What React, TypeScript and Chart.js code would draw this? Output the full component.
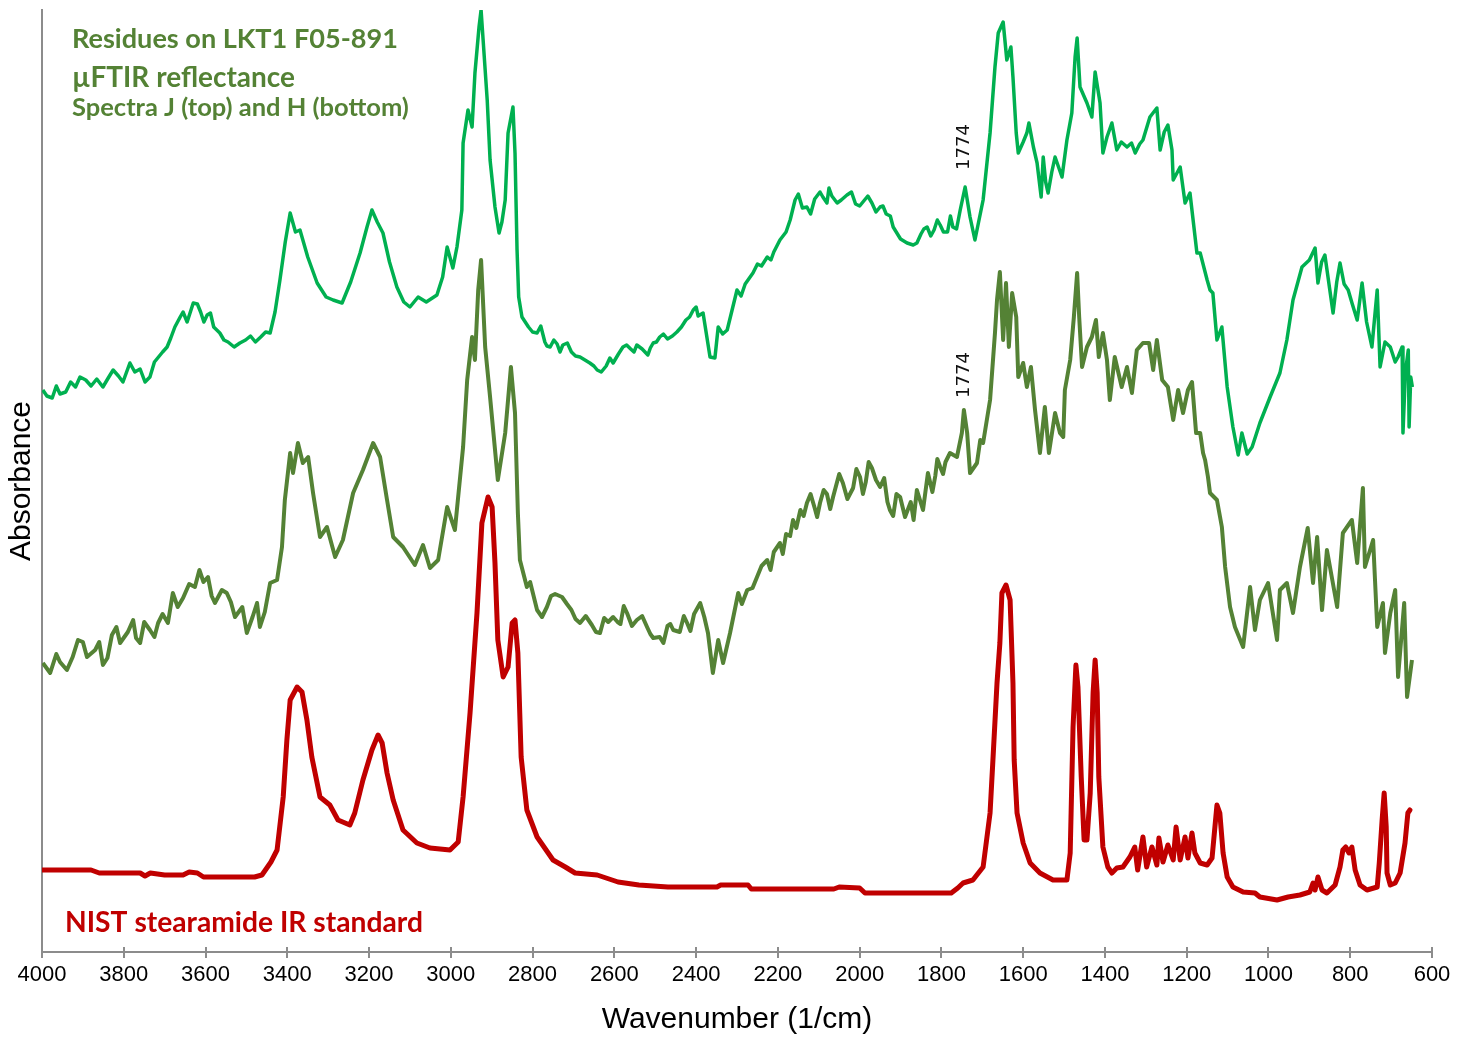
import React, { useEffect, useRef } from "react";
import { Chart, registerables } from "chart.js";

Chart.register(...registerables);

// ---- axis ----
const xMin = 600;
const xMax = 4000;
const xStep = 200;
const yMin = 0;
const yMax = 94.2;

// ---- Spectrum J (top, light green): [wavenumber, absorbance] ----
const spectrumJ: [number, number][] = [
  [3998, 56.2], [3988, 55.6], [3975, 55.4], [3965, 56.6], [3956, 55.8], [3942, 56.0], [3930, 57.0], [3918, 56.5],
  [3907, 57.5], [3893, 57.2], [3880, 56.6], [3866, 57.3], [3851, 56.5], [3838, 57.4], [3826, 58.2], [3813, 57.6],
  [3802, 57.0], [3785, 58.9], [3773, 58.0], [3760, 58.3], [3748, 57.0], [3736, 57.5], [3725, 59.0], [3715, 59.5],
  [3705, 60.0], [3694, 60.5], [3685, 61.4], [3675, 62.5], [3662, 63.5], [3655, 64.0], [3645, 63.0], [3630, 64.9],
  [3620, 64.8], [3612, 64.0], [3604, 63.0], [3596, 63.7], [3588, 63.9], [3580, 62.5], [3565, 61.9], [3555, 61.2],
  [3545, 61.0], [3530, 60.5], [3516, 60.9], [3502, 61.2], [3490, 61.6], [3478, 61.0], [3465, 61.5], [3453, 62.0],
  [3442, 61.9], [3430, 64.0], [3418, 67.2], [3405, 71.0], [3393, 73.9], [3380, 72.0], [3369, 72.2], [3350, 69.5],
  [3327, 66.9], [3305, 65.5], [3288, 65.2], [3266, 64.9], [3245, 67.0], [3222, 69.9], [3205, 72.5], [3193, 74.2],
  [3180, 73.0], [3166, 71.9], [3150, 69.0], [3132, 66.5], [3115, 65.0], [3100, 64.5], [3080, 65.5], [3060, 65.0],
  [3034, 65.7], [3020, 67.5], [3009, 70.5], [2995, 68.4], [2985, 70.5], [2973, 74.2], [2970, 80.9], [2958, 84.2],
  [2948, 82.5], [2941, 87.9], [2931, 92.5], [2926, 94.2], [2921, 91.2], [2911, 85.2], [2904, 79.2], [2892, 74.5],
  [2882, 71.9], [2875, 73.0], [2867, 75.2], [2860, 81.9], [2848, 84.5], [2843, 79.9], [2838, 70.2], [2834, 65.5],
  [2826, 63.5], [2810, 62.5], [2800, 62.0], [2789, 61.9], [2780, 62.6], [2770, 61.0], [2765, 60.6], [2757, 60.5],
  [2748, 61.2], [2740, 60.8], [2733, 60.0], [2726, 60.7], [2715, 60.9], [2705, 60.0], [2695, 59.6], [2684, 59.5],
  [2672, 59.2], [2660, 58.9], [2650, 58.6], [2642, 58.2], [2632, 58.0], [2620, 58.6], [2611, 59.4], [2603, 58.9],
  [2590, 59.8], [2579, 60.5], [2570, 60.7], [2560, 60.3], [2552, 60.0], [2545, 60.7], [2532, 60.3], [2518, 59.7],
  [2512, 60.4], [2505, 60.9], [2497, 61.0], [2489, 61.5], [2480, 61.8], [2470, 61.3], [2458, 61.6], [2447, 62.0],
  [2436, 62.5], [2425, 63.2], [2416, 63.5], [2407, 64.2], [2400, 64.5], [2395, 63.6], [2383, 63.9], [2366, 59.5],
  [2354, 59.4], [2346, 62.5], [2335, 61.8], [2324, 62.2], [2300, 66.2], [2290, 65.6], [2280, 66.8], [2261, 67.9],
  [2250, 68.8], [2240, 68.6], [2226, 69.5], [2217, 69.2], [2210, 70.0], [2195, 71.2], [2180, 72.0], [2170, 73.2],
  [2158, 75.2], [2150, 75.8], [2140, 74.4], [2129, 74.5], [2120, 73.8], [2110, 75.3], [2097, 76.0], [2090, 75.5],
  [2080, 74.9], [2075, 76.4], [2068, 75.6], [2055, 74.9], [2045, 75.2], [2031, 75.7], [2020, 76.0], [2010, 74.8],
  [2000, 74.6], [1992, 75.0], [1980, 75.6], [1970, 74.9], [1960, 74.0], [1950, 74.5], [1943, 74.6], [1935, 73.8],
  [1925, 73.6], [1918, 72.5], [1900, 71.3], [1884, 70.9], [1869, 70.7], [1860, 70.9], [1850, 71.8], [1843, 72.3],
  [1835, 72.5], [1826, 71.6], [1818, 72.2], [1810, 73.2], [1803, 72.7], [1795, 72.0], [1785, 72.0], [1778, 73.6],
  [1772, 72.5], [1763, 72.3], [1754, 74.2], [1742, 76.5], [1730, 73.5], [1718, 71.2], [1698, 75.2], [1681, 81.9],
  [1669, 88.5], [1661, 91.9], [1649, 93.0], [1640, 89.2], [1630, 90.5], [1625, 87.5], [1617, 81.9], [1612, 79.9],
  [1600, 81.0], [1591, 81.9], [1586, 82.9], [1575, 80.5], [1566, 78.9], [1556, 75.5], [1551, 79.5], [1545, 77.0],
  [1539, 75.9], [1530, 78.0], [1522, 79.5], [1505, 77.5], [1493, 81.2], [1481, 83.9], [1473, 89.5], [1468, 91.4],
  [1461, 86.5], [1444, 84.9], [1432, 83.5], [1424, 88.0], [1412, 84.9], [1405, 79.9], [1395, 81.5], [1383, 82.9],
  [1371, 80.2], [1360, 81.0], [1346, 80.5], [1335, 80.9], [1326, 79.9], [1315, 80.8], [1307, 81.2], [1290, 83.5],
  [1273, 84.4], [1265, 80.2], [1255, 82.0], [1246, 82.7], [1236, 80.2], [1233, 77.2], [1216, 78.5], [1204, 74.9],
  [1192, 75.9], [1175, 69.9], [1167, 69.9], [1150, 67.2], [1143, 66.2], [1136, 65.9], [1126, 61.2], [1114, 62.5],
  [1101, 56.5], [1087, 52.5], [1074, 49.7], [1065, 51.9], [1052, 49.8], [1040, 50.5], [1021, 52.9], [996, 55.5],
  [972, 57.9], [955, 61.2], [940, 65.2], [918, 68.5], [900, 69.2], [886, 70.4], [879, 66.9], [870, 69.0],
  [862, 69.7], [842, 63.9], [833, 67.0], [825, 68.9], [815, 66.8], [805, 66.2], [795, 64.8], [783, 63.2],
  [771, 66.9], [760, 63.0], [747, 60.5], [734, 66.2], [727, 58.5], [715, 61.0], [702, 60.5], [690, 59.0],
  [683, 59.5], [673, 60.5], [671, 51.9], [665, 58.0], [658, 60.2], [656, 52.5], [652, 57.5], [648, 56.5],
];

// ---- Spectrum H (middle, olive green) ----
const spectrumH: [number, number][] = [
  [3998, 28.9], [3980, 27.9], [3965, 29.8], [3956, 29.0], [3939, 28.2], [3925, 29.5], [3912, 31.2], [3900, 31.0],
  [3890, 29.5], [3870, 30.2], [3860, 31.0], [3851, 28.7], [3840, 29.4], [3829, 31.7], [3818, 32.5], [3809, 30.9],
  [3790, 32.0], [3777, 33.2], [3770, 31.4], [3760, 30.9], [3750, 33.0], [3736, 32.2], [3725, 31.5], [3716, 32.9],
  [3705, 33.8], [3692, 32.9], [3680, 35.9], [3668, 34.5], [3655, 35.4], [3640, 36.8], [3626, 36.5], [3615, 38.2],
  [3605, 37.0], [3594, 37.5], [3585, 35.6], [3577, 34.9], [3560, 36.2], [3548, 35.9], [3538, 35.0], [3528, 33.5],
  [3510, 34.5], [3499, 31.9], [3485, 33.5], [3474, 34.9], [3467, 32.5], [3455, 34.0], [3442, 36.9], [3425, 37.2],
  [3413, 40.5], [3406, 45.2], [3393, 49.9], [3386, 47.9], [3374, 50.9], [3362, 48.9], [3349, 49.5], [3337, 45.9],
  [3320, 41.5], [3303, 42.5], [3283, 39.5], [3264, 41.2], [3239, 45.9], [3215, 48.2], [3190, 50.9], [3173, 49.5],
  [3156, 45.2], [3141, 41.5], [3117, 40.5], [3088, 38.7], [3068, 40.7], [3051, 38.4], [3031, 39.2], [3009, 44.5],
  [2990, 42.2], [2970, 50.5], [2960, 57.2], [2948, 61.5], [2941, 59.2], [2933, 66.2], [2926, 69.2], [2916, 60.5],
  [2904, 55.5], [2885, 47.2], [2867, 51.9], [2853, 58.5], [2843, 53.9], [2836, 43.9], [2831, 39.2], [2814, 36.5],
  [2806, 37.0], [2789, 34.2], [2777, 33.5], [2765, 34.5], [2755, 35.6], [2745, 35.8], [2728, 35.5], [2716, 34.8],
  [2705, 34.2], [2695, 33.3], [2684, 32.9], [2670, 33.6], [2655, 32.7], [2645, 32.0], [2635, 31.9], [2625, 33.4],
  [2615, 33.0], [2603, 33.5], [2592, 33.0], [2585, 32.8], [2577, 34.6], [2569, 33.9], [2557, 32.6], [2545, 33.2],
  [2532, 33.6], [2520, 32.5], [2512, 31.8], [2505, 31.4], [2489, 31.5], [2480, 30.9], [2470, 32.6], [2463, 32.8],
  [2456, 32.2], [2440, 32.0], [2430, 33.6], [2422, 32.9], [2414, 32.1], [2405, 33.8], [2390, 34.9], [2380, 33.5],
  [2371, 31.9], [2359, 27.9], [2346, 31.2], [2334, 28.9], [2317, 31.9], [2297, 35.9], [2288, 34.8], [2275, 36.2],
  [2262, 36.4], [2251, 37.5], [2240, 38.6], [2226, 39.2], [2218, 38.2], [2210, 40.0], [2195, 40.9], [2188, 39.8],
  [2180, 41.8], [2170, 41.6], [2163, 43.2], [2155, 42.4], [2145, 44.2], [2137, 43.6], [2129, 44.9], [2120, 45.8],
  [2110, 44.4], [2104, 43.5], [2097, 44.9], [2088, 46.2], [2080, 45.8], [2072, 44.3], [2065, 45.5], [2050, 47.8],
  [2041, 46.9], [2030, 45.3], [2016, 46.4], [2008, 48.3], [1999, 47.5], [1992, 45.8], [1985, 47.0], [1978, 49.0],
  [1970, 48.4], [1960, 47.2], [1950, 46.5], [1940, 47.4], [1932, 45.0], [1926, 44.2], [1918, 43.6], [1910, 45.8],
  [1901, 45.5], [1889, 43.5], [1875, 45.0], [1868, 43.2], [1860, 46.2], [1845, 44.2], [1833, 47.9], [1822, 46.0],
  [1815, 47.6], [1810, 49.3], [1803, 48.5], [1796, 47.8], [1790, 49.0], [1779, 49.9], [1762, 49.5], [1750, 51.9],
  [1745, 54.2], [1737, 51.9], [1730, 47.9], [1713, 48.9], [1705, 51.2], [1698, 50.9], [1681, 55.2], [1669, 61.9],
  [1664, 65.2], [1657, 68.0], [1649, 61.2], [1642, 66.9], [1635, 60.5], [1627, 65.9], [1617, 63.5], [1612, 57.5],
  [1600, 58.9], [1591, 56.5], [1581, 58.5], [1571, 54.2], [1559, 49.9], [1547, 54.5], [1537, 49.9], [1522, 53.9],
  [1510, 51.9], [1502, 51.5], [1498, 56.2], [1485, 59.2], [1476, 63.5], [1468, 67.9], [1463, 63.5], [1456, 58.5],
  [1444, 60.5], [1432, 61.5], [1422, 63.2], [1415, 59.5], [1405, 61.9], [1395, 59.2], [1388, 55.2], [1376, 59.5],
  [1359, 56.5], [1346, 58.5], [1334, 55.9], [1322, 60.2], [1307, 60.9], [1292, 60.9], [1282, 58.2], [1273, 61.2],
  [1260, 57.2], [1246, 56.5], [1233, 53.2], [1221, 56.2], [1209, 53.9], [1197, 56.2], [1187, 57.0], [1177, 51.9],
  [1167, 51.9], [1160, 49.9], [1155, 49.2], [1148, 47.5], [1143, 45.9], [1126, 45.2], [1114, 42.5], [1106, 38.5],
  [1094, 34.5], [1082, 32.5], [1062, 30.5], [1045, 36.5], [1033, 32.2], [1021, 35.2], [1001, 36.9], [979, 31.2],
  [972, 36.2], [955, 36.9], [940, 33.9], [923, 38.5], [904, 42.4], [891, 36.9], [881, 41.5], [869, 34.2],
  [857, 40.2], [832, 34.5], [818, 41.9], [796, 43.2], [783, 38.9], [769, 46.4], [764, 38.5], [744, 41.2],
  [734, 32.5], [720, 34.9], [715, 29.9], [702, 33.9], [690, 36.2], [683, 27.5], [668, 34.9], [661, 25.5],
  [649, 29.2],
];

// ---- NIST stearamide standard (bottom, red) ----
const spectrumNist: [number, number][] = [
  [4000, 8.2], [3880, 8.2], [3860, 7.9], [3760, 7.9], [3748, 7.6], [3735, 7.9], [3700, 7.7], [3655, 7.7],
  [3640, 8.0], [3620, 7.9], [3605, 7.5], [3480, 7.5], [3462, 7.7], [3440, 9.0], [3425, 10.2], [3410, 15.5],
  [3401, 21.2], [3393, 25.2], [3376, 26.5], [3364, 26.0], [3352, 23.2], [3340, 19.5], [3320, 15.5], [3296, 14.7],
  [3276, 13.2], [3247, 12.7], [3235, 13.9], [3215, 17.2], [3193, 20.2], [3178, 21.7], [3168, 20.9], [3156, 17.9],
  [3141, 15.2], [3117, 12.2], [3083, 10.9], [3051, 10.4], [3002, 10.2], [2982, 11.0], [2970, 15.5], [2953, 23.9],
  [2936, 33.9], [2924, 42.9], [2909, 45.5], [2899, 44.5], [2892, 38.9], [2885, 31.2], [2872, 27.5], [2860, 28.5],
  [2850, 32.9], [2843, 33.2], [2836, 29.9], [2828, 19.5], [2814, 14.2], [2789, 11.5], [2750, 9.2], [2720, 8.5],
  [2696, 7.9], [2642, 7.7], [2591, 7.0], [2540, 6.7], [2469, 6.5], [2349, 6.5], [2340, 6.7], [2273, 6.7],
  [2265, 6.3], [2063, 6.3], [2050, 6.5], [2000, 6.4], [1987, 5.9], [1776, 5.9], [1760, 6.4], [1747, 6.9],
  [1723, 7.2], [1698, 8.5], [1681, 13.9], [1674, 19.2], [1664, 26.9], [1657, 30.9], [1652, 35.9], [1642, 36.7],
  [1632, 35.2], [1625, 26.9], [1622, 19.2], [1615, 13.9], [1600, 10.9], [1583, 8.9], [1559, 7.9], [1527, 7.2],
  [1493, 7.2], [1485, 9.9], [1478, 22.5], [1471, 28.7], [1466, 26.5], [1458, 17.5], [1451, 11.2], [1444, 11.2],
  [1436, 15.9], [1429, 25.9], [1424, 29.2], [1419, 25.9], [1415, 17.5], [1405, 10.5], [1393, 8.5], [1383, 7.9],
  [1371, 8.4], [1356, 8.5], [1339, 9.5], [1327, 10.5], [1320, 8.2], [1307, 11.5], [1298, 8.5], [1285, 10.5],
  [1273, 8.7], [1268, 11.4], [1258, 9.0], [1246, 10.7], [1233, 9.2], [1226, 12.5], [1216, 9.2], [1204, 11.5],
  [1197, 9.4], [1187, 11.9], [1180, 9.9], [1167, 8.9], [1150, 8.7], [1138, 9.4], [1131, 12.5], [1126, 14.7],
  [1119, 13.9], [1111, 9.9], [1101, 7.5], [1087, 6.5], [1062, 6.0], [1033, 5.9], [1021, 5.5], [979, 5.2],
  [952, 5.5], [923, 5.7], [899, 6.0], [891, 6.9], [886, 6.2], [879, 7.5], [869, 6.2], [857, 5.9],
  [837, 6.7], [825, 8.5], [818, 10.2], [811, 10.5], [803, 9.9], [796, 10.5], [788, 8.2], [776, 6.7],
  [759, 6.2], [734, 6.5], [729, 8.9], [722, 13.2], [717, 15.9], [712, 12.5], [710, 7.9], [702, 6.7],
  [690, 6.9], [678, 7.9], [666, 10.9], [659, 13.9], [654, 14.2],
];

// ---- labels ----
const seriesNames = ["Spectrum J (top)", "Spectrum H (bottom)", "NIST stearamide IR standard"];
const titleLines = ["Residues on LKT1 F05-891", "\u00b5FTIR reflectance", "Spectra J (top) and H (bottom)"];
const nistLabel = "NIST stearamide IR standard";
const peakLabel = "1774";
const peakLabelWn = 1745;
const xTitle = "Wavenumber (1/cm)";
const yTitle = "Absorbance";

const GREEN = "#00b050";
const OLIVE = "#548235";
const RED = "#c00000";
const AXIS = "#8c8c8c";

function toPoints(rows: [number, number][]) {
  return rows.map(([x, y]) => ({ x, y }));
}

function fitText(
  ctx: CanvasRenderingContext2D,
  text: string,
  x: number,
  y: number,
  width: number,
  nominal: number,
  family: string,
  color: string
) {
  ctx.font = `bold ${nominal}px ${family}`;
  const w = ctx.measureText(text).width;
  const size = (nominal * width) / w;
  ctx.font = `bold ${size}px ${family}`;
  ctx.fillStyle = color;
  ctx.textAlign = "left";
  ctx.textBaseline = "alphabetic";
  ctx.fillText(text, x, y);
}

const annotationPlugin = {
  id: "annotations",
  afterDraw(chart: any) {
    const ctx: CanvasRenderingContext2D = chart.ctx;
    const xs = chart.scales.x;
    const area = chart.chartArea;
    ctx.save();
    // inner half of the tick marks
    ctx.strokeStyle = AXIS;
    ctx.lineWidth = 2;
    for (let v = xMin; v <= xMax; v += xStep) {
      const px = Math.round(xs.getPixelForValue(v));
      ctx.beginPath();
      ctx.moveTo(px, area.bottom - 5);
      ctx.lineTo(px, area.bottom);
      ctx.stroke();
    }
    const fam = 'Lato, "Open Sans", sans-serif';
    fitText(ctx, titleLines[0], 72, 48, 326, 25, fam, OLIVE);
    fitText(ctx, titleLines[1], 72, 87, 223, 25, fam, OLIVE);
    fitText(ctx, titleLines[2], 72, 116, 337, 21, fam, OLIVE);
    fitText(ctx, nistLabel, 65, 932, 358, 25, fam, RED);

    const px = xs.getPixelForValue(peakLabelWn);
    for (const cy of [147, 375]) {
      ctx.save();
      ctx.translate(px, cy);
      ctx.rotate(-Math.PI / 2);
      ctx.font = '18px "DejaVu Sans", sans-serif';
      ctx.fillStyle = "#111";
      ctx.textAlign = "center";
      ctx.textBaseline = "middle";
      ctx.fillText(peakLabel, 0, 0);
      ctx.restore();
    }
    ctx.restore();
  },
};

export default function App() {
  const canvasRef = useRef<HTMLCanvasElement | null>(null);

  useEffect(() => {
    const canvas = canvasRef.current;
    if (!canvas) return;
    Chart.defaults.font.family = '"Liberation Sans", Arial, sans-serif';
    const chart = new Chart(canvas, {
      type: "line",
      data: {
        datasets: [
          {
            label: seriesNames[2],
            data: toPoints(spectrumNist),
            borderColor: RED,
            borderWidth: 5,
            pointRadius: 0,
            tension: 0,
            borderJoinStyle: "round",
            borderCapStyle: "round",
          },
          {
            label: seriesNames[1],
            data: toPoints(spectrumH),
            borderColor: OLIVE,
            borderWidth: 4,
            pointRadius: 0,
            tension: 0,
            borderJoinStyle: "round",
          },
          {
            label: seriesNames[0],
            data: toPoints(spectrumJ),
            borderColor: GREEN,
            borderWidth: 3.5,
            pointRadius: 0,
            tension: 0,
            borderJoinStyle: "round",
          },
        ],
      },
      options: {
        animation: false,
        responsive: false,
        maintainAspectRatio: false,
        layout: { padding: { top: 10, right: 36, bottom: 0, left: 0 } },
        plugins: {
          legend: { display: false },
          tooltip: { enabled: false },
          title: { display: false },
        },
        scales: {
          x: {
            type: "linear",
            min: xMin,
            max: xMax,
            reverse: true,
            ticks: {
              stepSize: xStep,
              autoSkip: false,
              maxRotation: 0,
              color: "#000",
              font: { size: 22 },
              padding: 4,
              callback: (v: any) => String(v),
            },
            grid: {
              drawOnChartArea: false,
              drawTicks: true,
              tickLength: 6,
              color: AXIS,
              lineWidth: 2,
            },
            border: { display: true, color: AXIS, width: 2 },
            title: {
              display: true,
              text: xTitle,
              color: "#000",
              font: { size: 30 },
              padding: { top: 0, bottom: 0 },
            },
            afterFit(scale: any) {
              scale.height = 86;
            },
          },
          y: {
            min: yMin,
            max: yMax,
            ticks: { display: false },
            grid: { display: false, drawTicks: false },
            border: { display: true, color: AXIS, width: 2 },
            title: {
              display: true,
              text: yTitle,
              color: "#000",
              font: { size: 30 },
              padding: { top: 4, bottom: 0 },
            },
            afterFit(scale: any) {
              scale.width = 42;
            },
          },
        },
      },
      plugins: [annotationPlugin],
    } as any);
    return () => chart.destroy();
  }, []);

  return (
    <div style={{ position: "fixed", left: 0, top: 0, width: 1468, height: 1038, background: "#fff" }}>
      <canvas ref={canvasRef} width={1468} height={1038} style={{ width: 1468, height: 1038 }} />
    </div>
  );
}
